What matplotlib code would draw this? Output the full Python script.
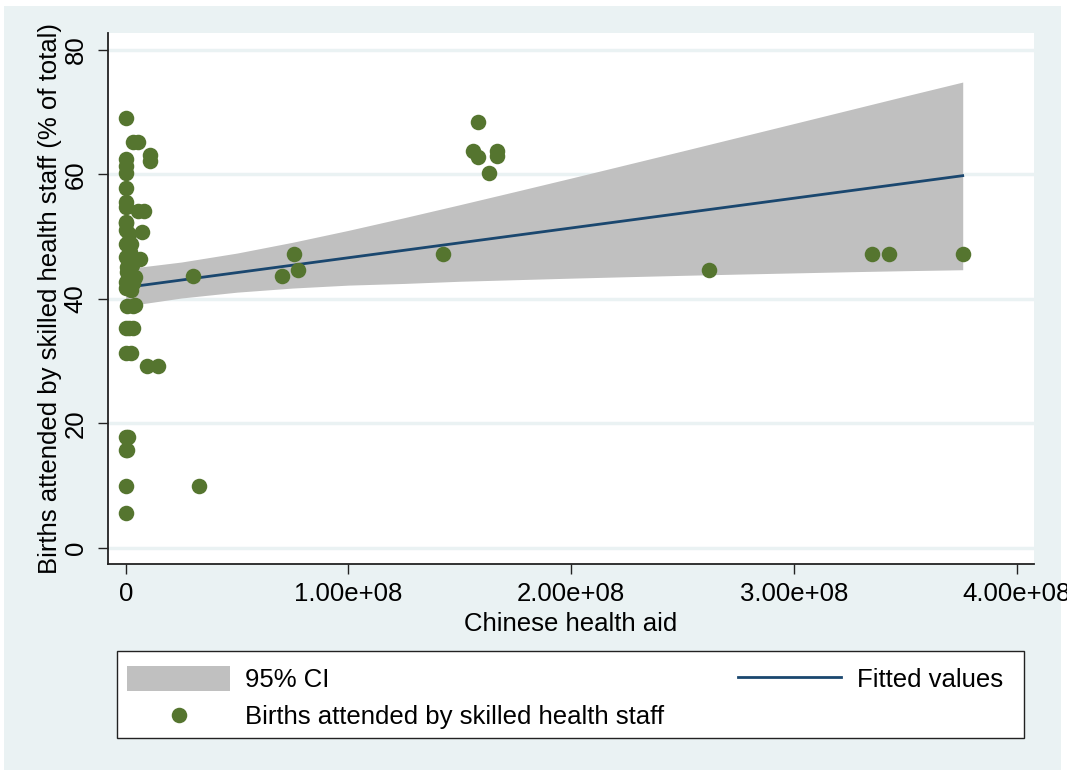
import matplotlib

matplotlib.use("Agg")
import matplotlib.pyplot as plt
from matplotlib.patches import Rectangle

plt.rcParams["font.family"] = ["Liberation Sans", "DejaVu Sans"]

BG, GRID = "#EAF2F3", "#EAF2F3"
GREEN, NAVY, CI_GREY = "#55752F", "#1A476F", "#C0C0C0"
FS = 18.5

# scatter: Chinese health aid (USD) vs births attended by skilled staff (%)
aid = [0, 0, 0, 0, 0, 0, 0, 0, 0, 0, 0,
       0.5e6, 0.5e6, 0.3e6, 0.3e6, 0.5e6, 0, 0, 0, 0, 0, 0, 0,
       3.5e6, 5.5e6, 1.07e7, 1.07e7, 5.5e6, 8.0e6, 7.3e6, 6.6e6, 4.4e6,
       4.4e6, 3.5e6, 1.5e6, 3.5e6, 2.5e6, 0.97e7, 1.45e7, 1.2e6, 0.5e6,
       2.5e6, 3.0e6, 2.0e6, 3.5e6, 2.0e6, 1.5e6, 2.5e6,
       3.3e7, 3.03e7, 7.01e7, 7.54e7, 7.72e7, 1.423e8,
       1.58e8, 1.561e8, 1.583e8, 1.666e8, 1.666e8, 1.63e8,
       2.62e8, 3.348e8, 3.426e8, 3.757e8]
births = [69.0, 62.5, 61.4, 60.2, 57.9, 55.6, 54.8, 52.4, 51.1, 48.9, 46.8,
          45.2, 44.4, 42.8, 41.7, 38.8, 35.3, 31.3, 17.8, 15.7, 10.0, 5.7, 52.2,
          65.2, 65.2, 63.2, 62.1, 54.1, 54.1, 50.8, 46.5, 43.6,
          39.0, 38.8, 35.3, 35.3, 31.3, 29.3, 29.3, 17.8, 15.7,
          48.9, 45.5, 44.0, 42.5, 47.5, 50.5, 41.5,
          10.0, 43.75, 43.7, 47.3, 44.65, 47.3,
          68.4, 63.7, 62.8, 63.7, 62.9, 60.3,
          44.7, 47.3, 47.3, 47.3]

# fitted line and 95% CI band
fit_x = [0, 3.757e8]
fit_y = [41.85, 59.81]
ci_x = [0, 0.25e8, 0.5e8, 0.75e8, 1.0e8, 1.25e8, 1.5e8, 1.75e8, 2.0e8,
        2.25e8, 2.5e8, 2.75e8, 3.0e8, 3.25e8, 3.5e8, 3.757e8]
ci_hi = [44.85, 45.94, 47.38, 49.12, 51.03, 53.06, 55.15, 57.28, 59.43,
         61.61, 63.79, 65.99, 68.19, 70.40, 72.61, 74.85]
ci_lo = [38.85, 40.16, 41.10, 41.76, 42.23, 42.50, 42.85, 43.10, 43.35,
         43.58, 43.80, 44.00, 44.19, 44.38, 44.55, 44.70]

x_ticks = [0, 1e8, 2e8, 3e8, 4e8]
x_ticklabels = ["0", "1.00e+08", "2.00e+08", "3.00e+08", "4.00e+08"]
y_ticks = [0, 20, 40, 60, 80]


def main() -> None:
    fig = plt.figure(figsize=(10.67, 7.70), dpi=100, facecolor="white")
    fig.patches.append(Rectangle((4 / 1067, 0), 1057 / 1067, 764 / 770,
                                 transform=fig.transFigure, facecolor=BG,
                                 edgecolor="none", zorder=-10))
    # legend box, a bit wider than its content as in the reference
    fig.patches.append(Rectangle((117 / 1067, 1 - 738 / 770), 907 / 1067, 87 / 770,
                                 transform=fig.transFigure, facecolor="white",
                                 edgecolor="#222222", lw=1.0, zorder=-5))

    ax = fig.add_axes([108 / 1067, 1 - 564 / 770, 926 / 1067, 531 / 770])
    ax.set_facecolor("white")
    ci = ax.fill_between(ci_x, ci_lo, ci_hi, color=CI_GREY, lw=0, zorder=2,
                         label="95% CI")
    (fl,) = ax.plot(fit_x, fit_y, color=NAVY, lw=2.0, zorder=3,
                    label="Fitted values")
    sc = ax.scatter(aid, births, s=125, color=GREEN, lw=0, zorder=4,
                    label="Births attended by skilled health staff")

    ax.set_xlim(-7.94e6, 4.077e8)
    ax.set_ylim(-2.57, 82.73)
    ax.set_xticks(x_ticks)
    ax.set_xticklabels(x_ticklabels)
    ax.set_yticks(y_ticks)
    ax.grid(axis="y", color=GRID, lw=2.5, zorder=1)
    ax.set_axisbelow(True)
    for side in ("top", "right"):
        ax.spines[side].set_visible(False)
    for side in ("left", "bottom"):
        ax.spines[side].set_color("#222222")
        ax.spines[side].set_linewidth(1.3)
    ax.tick_params(length=7.2, width=1.0, color="#222222", labelsize=FS)
    ax.tick_params(axis="x", pad=6)
    ax.tick_params(axis="y", pad=7.5)
    for lab in ax.get_yticklabels():
        lab.set_rotation(90)
        lab.set_va("center")
    ax.set_xlabel("Chinese health aid", fontsize=FS, labelpad=4)
    ax.set_ylabel("Births attended by skilled health staff (% of total)",
                  fontsize=FS, labelpad=1)

    fig.legend([ci, sc, fl],
               ["95% CI", "Births attended by skilled health staff",
                "Fitted values"],
               ncol=2, loc="center", mode="expand",
               bbox_to_anchor=(117 / 1067, 1 - 741 / 770, 896 / 1067, 87 / 770),
               bbox_transform=fig.transFigure, fontsize=FS, frameon=False,
               handlelength=4.0, handleheight=1.13, handletextpad=0.6,
               labelspacing=0.4, borderpad=0.4, borderaxespad=0,
               scatterpoints=1)

    fig.savefig("out.png", dpi=100, facecolor="white")


if __name__ == "__main__":
    main()
